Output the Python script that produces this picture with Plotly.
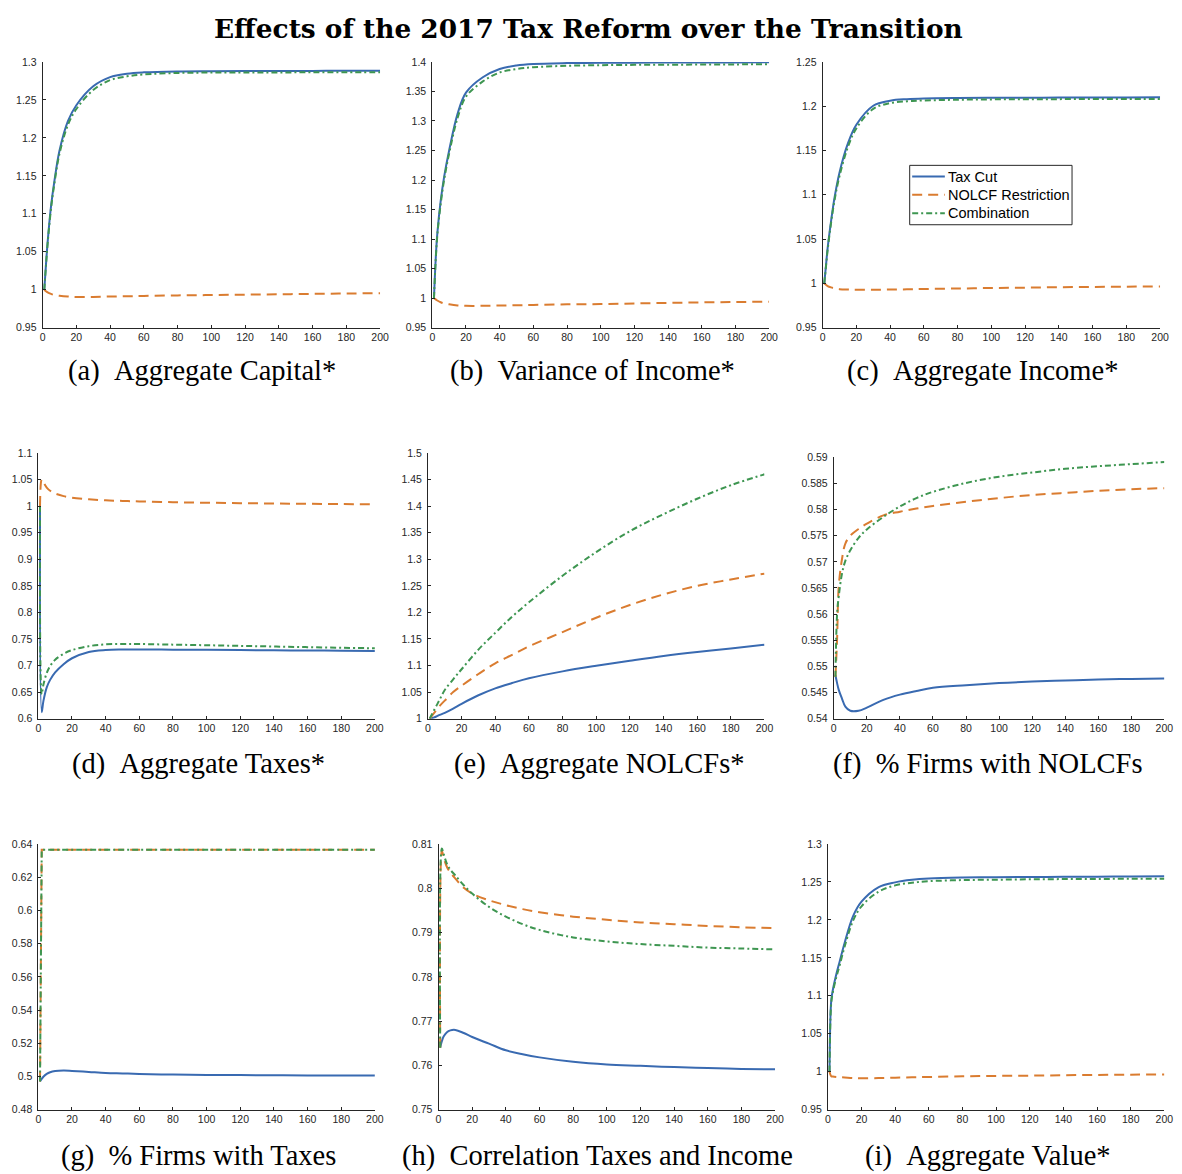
import plotly.graph_objects as go

W, H = 1182, 1174

# Periods after the reform at which each path is recorded
period = [1, 2, 3, 5, 7, 10, 15, 20, 30, 40, 50, 60, 80, 100, 120, 140, 160, 180, 200]

series_names = ["Tax Cut", "NOLCF Restriction", "Combination"]

# (a) Aggregate Capital*
capital_tax_cut = [1.0, 1.033, 1.063, 1.11, 1.143, 1.183, 1.222, 1.243, 1.268, 1.280, 1.2845, 1.2863,
                   1.2875, 1.2878, 1.288, 1.2881, 1.2882, 1.2883, 1.2885]
capital_nolcf = [1.0, 0.998, 0.9965, 0.9945, 0.993, 0.992, 0.991, 0.9905, 0.9905, 0.991, 0.9914, 0.9918,
                 0.9925, 0.993, 0.9935, 0.994, 0.9945, 0.995, 0.9955]
capital_combo = [1.0, 1.032, 1.061, 1.107, 1.14, 1.179, 1.217, 1.238, 1.263, 1.276, 1.281, 1.2835,
                 1.2855, 1.286, 1.2861, 1.2862, 1.2863, 1.2864, 1.2865]

# (b) Variance of Income*
variance_tax_cut = [1.0, 1.065, 1.11, 1.165, 1.205, 1.25, 1.312, 1.348, 1.374, 1.388, 1.394, 1.3965,
                    1.398, 1.3985, 1.3988, 1.399, 1.399, 1.3992, 1.3995]
variance_nolcf = [1.0, 0.998, 0.996, 0.993, 0.991, 0.9895, 0.9877, 0.987, 0.987, 0.9875, 0.988, 0.9885,
                  0.9895, 0.990, 0.991, 0.992, 0.9928, 0.9935, 0.994]
variance_combo = [1.0, 1.063, 1.107, 1.16, 1.2, 1.245, 1.305, 1.341, 1.367, 1.382, 1.388, 1.391,
                  1.3935, 1.3945, 1.395, 1.3953, 1.3955, 1.3958, 1.396]

# (c) Aggregate Income*
income_tax_cut = [1.0, 1.02, 1.04, 1.07, 1.096, 1.125, 1.158, 1.179, 1.2005, 1.2062, 1.208, 1.2088,
                  1.2093, 1.2095, 1.2096, 1.2097, 1.2098, 1.2099, 1.21]
income_nolcf = [1.0, 0.9985, 0.997, 0.9955, 0.9945, 0.9935, 0.993, 0.9928, 0.9928, 0.993, 0.9933, 0.9937,
                0.9942, 0.9948, 0.9952, 0.9957, 0.996, 0.9963, 0.9966]
income_combo = [1.0, 1.019, 1.038, 1.068, 1.093, 1.121, 1.154, 1.175, 1.197, 1.2035, 1.2055, 1.2065,
                1.2073, 1.2077, 1.2078, 1.208, 1.2081, 1.2081, 1.2082]

# (d) Aggregate Taxes*
taxes_tax_cut = [1.0, 0.612, 0.633, 0.659, 0.673, 0.687, 0.7025, 0.7137, 0.7256, 0.7293, 0.7302, 0.7303,
                 0.7299, 0.7295, 0.7291, 0.7287, 0.7283, 0.7279, 0.7275]
taxes_nolcf = [1.0, 1.05, 1.045, 1.035, 1.029, 1.024, 1.019, 1.016, 1.013, 1.011, 1.010, 1.009,
               1.0075, 1.0065, 1.0057, 1.005, 1.0045, 1.004, 1.0037]
taxes_combo = [1.0, 0.646, 0.664, 0.686, 0.699, 0.711, 0.722, 0.729, 0.7365, 0.7398, 0.7406, 0.7405,
               0.7393, 0.7382, 0.737, 0.7358, 0.7346, 0.7335, 0.7325]

# (e) Aggregate NOLCFs*
nolcf_tax_cut = [1.0, 1.0005, 1.0015, 1.004, 1.007, 1.011, 1.019, 1.028, 1.044, 1.057, 1.067, 1.076,
                 1.089, 1.0995, 1.109, 1.118, 1.1255, 1.132, 1.139]
nolcf_nolcf = [1.0, 1.004, 1.008, 1.016, 1.024, 1.034, 1.05, 1.062, 1.084, 1.104, 1.12, 1.136,
               1.163, 1.19, 1.214, 1.234, 1.25, 1.262, 1.273]
nolcf_combo = [1.0, 1.006, 1.012, 1.024, 1.036, 1.054, 1.074, 1.093, 1.13, 1.1615, 1.192, 1.219,
               1.269, 1.3136, 1.353, 1.385, 1.414, 1.4395, 1.46]

# (f) % Firms with NOLCFs
share_nolcf_tax_cut = [0.5483, 0.5468, 0.5455, 0.5438, 0.5423, 0.5415, 0.5415, 0.5421, 0.5436, 0.5446,
                       0.5453, 0.5459, 0.5464, 0.5468, 0.5471, 0.5473, 0.5475, 0.5476, 0.5477]
share_nolcf_nolcf = [0.548, 0.5552, 0.5653, 0.5706, 0.5735, 0.575, 0.5763, 0.5773, 0.5789, 0.5796,
                     0.5802, 0.5807, 0.5815, 0.5822, 0.5828, 0.5832, 0.5836, 0.5839, 0.5841]
share_nolcf_combo = [0.548, 0.560, 0.5634, 0.5678, 0.5702, 0.5722, 0.5746, 0.5762, 0.5786, 0.5806,
                     0.5822, 0.5834, 0.5851, 0.5863, 0.5871, 0.5878, 0.5883, 0.5887, 0.5891]

# (g) % Firms with Taxes
share_taxed_tax_cut = [0.497, 0.4985, 0.4998, 0.5015, 0.5025, 0.5032, 0.5035, 0.5033, 0.5027, 0.5021,
                       0.5018, 0.5015, 0.5011, 0.5009, 0.5008, 0.5007, 0.5006, 0.5006, 0.5005]
share_taxed_nolcf = [0.497, 0.6365, 0.6365, 0.6365, 0.6365, 0.6365, 0.6365, 0.6365, 0.6365, 0.6365,
                     0.6365, 0.6365, 0.6365, 0.6365, 0.6365, 0.6365, 0.6365, 0.6365, 0.6365]
share_taxed_combo = [0.497, 0.6365, 0.6365, 0.6365, 0.6365, 0.6365, 0.6365, 0.6365, 0.6365, 0.6365,
                     0.6365, 0.6365, 0.6365, 0.6365, 0.6365, 0.6365, 0.6365, 0.6365, 0.6365]

# (h) Correlation Taxes and Income
corr_tax_cut = [0.764, 0.7655, 0.7665, 0.7675, 0.7679, 0.768, 0.7673, 0.7664, 0.7649, 0.7634, 0.7625,
                0.7618, 0.7608, 0.7602, 0.7599, 0.7596, 0.7594, 0.7592, 0.7591]
corr_nolcf = [0.764, 0.8085, 0.807, 0.8048, 0.8036, 0.8022, 0.8001, 0.7988, 0.7973, 0.7962, 0.7953,
              0.7946, 0.7936, 0.7929, 0.7923, 0.7919, 0.7915, 0.7912, 0.791]
corr_combo = [0.764, 0.809, 0.8078, 0.8055, 0.8042, 0.8029, 0.8007, 0.7988, 0.7958, 0.7936, 0.7919,
              0.7906, 0.7889, 0.788, 0.7874, 0.787, 0.7866, 0.7864, 0.7862]

# (i) Aggregate Value*
value_tax_cut = [1.0, 1.093, 1.108, 1.128, 1.145, 1.17, 1.205, 1.224, 1.243, 1.2495, 1.2528, 1.2545,
                 1.2558, 1.2563, 1.2566, 1.2568, 1.257, 1.2572, 1.2575]
value_nolcf = [1.0, 0.994, 0.9935, 0.993, 0.9927, 0.9923, 0.9915, 0.9912, 0.9915, 0.992, 0.9925, 0.993,
               0.9938, 0.9944, 0.9948, 0.9953, 0.9957, 0.9961, 0.9964]
value_combo = [1.0, 1.09, 1.105, 1.124, 1.14, 1.165, 1.199, 1.218, 1.237, 1.2455, 1.249, 1.251,
               1.2525, 1.253, 1.2535, 1.2538, 1.254, 1.2542, 1.2543]

title_text = "Effects of the 2017 Tax Reform over the Transition"
captions = [
    "(a)\u2002Aggregate Capital*", "(b)\u2002Variance of Income*", "(c)\u2002Aggregate Income*",
    "(d)\u2002Aggregate Taxes*", "(e)\u2002Aggregate NOLCFs*", "(f)\u2002% Firms with NOLCFs",
    "(g)\u2002% Firms with Taxes", "(h)\u2002Correlation Taxes and Income", "(i)\u2002Aggregate Value*",
]

x_ticks = [0, 20, 40, 60, 80, 100, 120, 140, 160, 180, 200]
y_ticks_a = [0.95, 1, 1.05, 1.1, 1.15, 1.2, 1.25, 1.3]
y_ticks_b = [0.95, 1, 1.05, 1.1, 1.15, 1.2, 1.25, 1.3, 1.35, 1.4]
y_ticks_c = [0.95, 1, 1.05, 1.1, 1.15, 1.2, 1.25]
y_ticks_d = [0.6, 0.65, 0.7, 0.75, 0.8, 0.85, 0.9, 0.95, 1, 1.05, 1.1]
y_ticks_e = [1, 1.05, 1.1, 1.15, 1.2, 1.25, 1.3, 1.35, 1.4, 1.45, 1.5]
y_ticks_f = [0.54, 0.545, 0.55, 0.555, 0.56, 0.565, 0.57, 0.575, 0.58, 0.585, 0.59]
y_ticks_g = [0.48, 0.5, 0.52, 0.54, 0.56, 0.58, 0.6, 0.62, 0.64]
y_ticks_h = [0.75, 0.76, 0.77, 0.78, 0.79, 0.8, 0.81]
y_ticks_i = [0.95, 1, 1.05, 1.1, 1.15, 1.2, 1.25, 1.3]

panel_series = [
    (capital_tax_cut, capital_nolcf, capital_combo),
    (variance_tax_cut, variance_nolcf, variance_combo),
    (income_tax_cut, income_nolcf, income_combo),
    (taxes_tax_cut, taxes_nolcf, taxes_combo),
    (nolcf_tax_cut, nolcf_nolcf, nolcf_combo),
    (share_nolcf_tax_cut, share_nolcf_nolcf, share_nolcf_combo),
    (share_taxed_tax_cut, share_taxed_nolcf, share_taxed_combo),
    (corr_tax_cut, corr_nolcf, corr_combo),
    (value_tax_cut, value_nolcf, value_combo),
]
panel_yticks = [y_ticks_a, y_ticks_b, y_ticks_c, y_ticks_d, y_ticks_e,
                y_ticks_f, y_ticks_g, y_ticks_h, y_ticks_i]

# Plot-area boxes in pixels: left, right, top, bottom
boxes = [
    (40, 381, 56.5, 325), (433.7, 774, 56.5, 325), (828, 1169, 56.5, 325),
    (35.7, 375.7, 451.7, 720), (429.3, 769.3, 451.7, 720), (839.3, 1173.3, 456, 720),
    (35.7, 375.7, 846.7, 1115), (440, 780, 846.7, 1115), (833.3, 1173.3, 846.7, 1115),
]
# Caption centres in pixels
caption_pos = [
    (201, 369), (596, 369), (990, 369),
    (197, 766), (602, 766), (995, 766),
    (198, 1162), (601, 1162), (995, 1162),
]

line_colors = ["#396AB1", "#DA7C30", "#3E9651"]
line_dashes = ["solid", "10px,6px", "6px,3px,2px,3px"]
AXIS_COLOR = "#262626"
SANS = "Liberation Sans, Arial, sans-serif"
SERIF = "Liberation Serif, Times New Roman, serif"
TITLE_FONT = "DejaVu Serif, serif"


def px_x(p):
    return p / W


def px_y(p):
    return 1 - p / H


fig = go.Figure()
layout = {}
for k, (series, yt, box) in enumerate(zip(panel_series, panel_yticks, boxes)):
    n = k + 1
    xa = "x" if n == 1 else f"x{n}"
    ya = "y" if n == 1 else f"y{n}"
    for j, (vals, name) in enumerate(zip(series, series_names)):
        # flat step paths look best drawn straight
        step_like = (k == 6 and j > 0)
        fig.add_trace(go.Scatter(
            x=period, y=vals, name=name, mode="lines",
            line=dict(color=line_colors[j], width=2, dash=line_dashes[j],
                      shape="linear" if step_like else "spline", smoothing=1.0),
            xaxis=xa, yaxis=ya, showlegend=False, hoverinfo="skip",
        ))
    left, right, top, bottom = box
    common = dict(showline=True, linecolor=AXIS_COLOR, linewidth=1, ticks="inside", ticklen=3,
                  tickcolor=AXIS_COLOR, tickwidth=1, showgrid=False, zeroline=False, mirror=False,
                  tickfont=dict(family=SANS, size=10.5, color=AXIS_COLOR), fixedrange=True)
    layout["xaxis" if n == 1 else f"xaxis{n}"] = dict(
        common, domain=[px_x(left), px_x(right)], range=[0, 200], anchor=ya,
        tickvals=x_ticks, ticktext=[str(v) for v in x_ticks])
    layout["yaxis" if n == 1 else f"yaxis{n}"] = dict(
        common, domain=[px_y(bottom), px_y(top)], range=[yt[0], yt[-1]], anchor=xa,
        tickvals=yt, ticktext=[f"{v:g}" for v in yt], ticklabelstandoff=3)

annotations = [dict(
    text=f"<b>{title_text}</b>", x=px_x(591), y=px_y(23), xref="paper", yref="paper",
    xanchor="center", yanchor="middle", showarrow=False,
    font=dict(family=TITLE_FONT, size=26.4, color="#000000"))]
for cap, (cx, cy) in zip(captions, caption_pos):
    annotations.append(dict(
        text=cap, x=px_x(cx), y=px_y(cy), xref="paper", yref="paper", xanchor="center",
        yanchor="middle", showarrow=False, font=dict(family=SERIF, size=28.5, color="#000000")))

# Legend box inside panel (c)
shapes = [dict(type="rect", xref="paper", yref="paper", x0=px_x(916), x1=px_x(1080),
               y0=px_y(221), y1=px_y(161), line=dict(color=AXIS_COLOR, width=1),
               fillcolor="white", layer="above")]
legend_rows = [172.3, 190.7, 209.3]
for j, (name, row) in enumerate(zip(series_names, legend_rows)):
    shapes.append(dict(type="line", xref="paper", yref="paper", x0=px_x(918.5), x1=px_x(951.5),
                       y0=px_y(row), y1=px_y(row), layer="above",
                       line=dict(color=line_colors[j], width=2, dash=line_dashes[j])))
    annotations.append(dict(text=name, x=px_x(953), y=px_y(row), xref="paper", yref="paper",
                            xanchor="left", yanchor="middle", showarrow=False,
                            font=dict(family=SANS, size=14.5, color="#000000")))

fig.update_layout(
    width=W, height=H, margin=dict(l=0, r=0, t=0, b=0),
    paper_bgcolor="white", plot_bgcolor="white", showlegend=False,
    annotations=annotations, shapes=shapes,
    **layout,
)

fig.write_html("out.html")
